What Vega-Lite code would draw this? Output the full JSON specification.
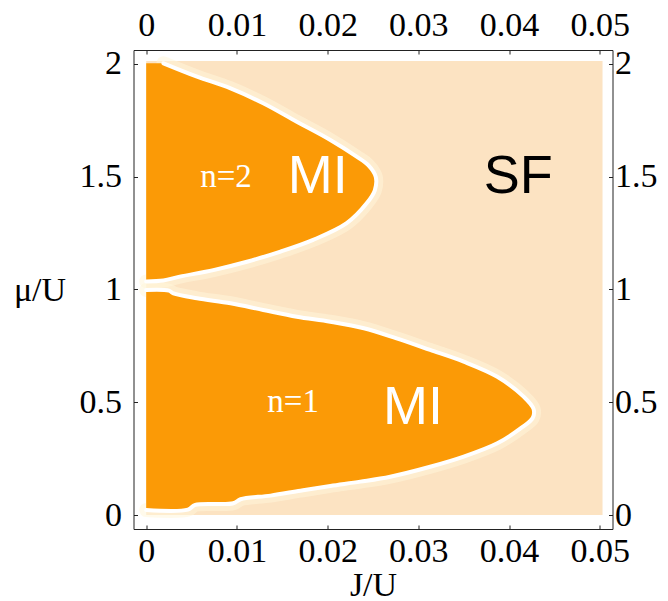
{
  "$schema": "https://vega.github.io/schema/vega-lite/v6.json",
  "autosize": "none",
  "width": 479,
  "height": 479,
  "padding": {"left": 133.5, "top": 50, "right": 55.5, "bottom": 72},
  "background": "white",
  "config": {
    "view": {"stroke": null},
    "axis": {
      "grid": false,
      "domainColor": "#222222",
      "domainWidth": 1,
      "tickColor": "#222222",
      "tickWidth": 1,
      "tickSize": -4,
      "labelFont": "Liberation Serif",
      "labelFontSize": 34,
      "labelColor": "black",
      "titleFont": "Liberation Serif",
      "titleFontSize": 34,
      "titleFontWeight": "normal",
      "titleColor": "black",
      "labelFlush": false,
      "labelOverlap": false
    }
  },
  "datasets": {
    "bg": [{"J0": 0, "J1": 0.0503, "mu0": 0, "mu1": 2.013}],
    "lobes": [
      {"lobe": "n1", "J": 0.0000, "mu": 0.022},
      {"lobe": "n1", "J": 0.0046, "mu": 0.024},
      {"lobe": "n1", "J": 0.0054, "mu": 0.045},
      {"lobe": "n1", "J": 0.0096, "mu": 0.052},
      {"lobe": "n1", "J": 0.0104, "mu": 0.070},
      {"lobe": "n1", "J": 0.0137, "mu": 0.086},
      {"lobe": "n1", "J": 0.0170, "mu": 0.108},
      {"lobe": "n1", "J": 0.0203, "mu": 0.129},
      {"lobe": "n1", "J": 0.0236, "mu": 0.148},
      {"lobe": "n1", "J": 0.0269, "mu": 0.170},
      {"lobe": "n1", "J": 0.0313, "mu": 0.214},
      {"lobe": "n1", "J": 0.0350, "mu": 0.259},
      {"lobe": "n1", "J": 0.0387, "mu": 0.318},
      {"lobe": "n1", "J": 0.0413, "mu": 0.385},
      {"lobe": "n1", "J": 0.0426, "mu": 0.430},
      {"lobe": "n1", "J": 0.0427, "mu": 0.470},
      {"lobe": "n1", "J": 0.0416, "mu": 0.525},
      {"lobe": "n1", "J": 0.0387, "mu": 0.613},
      {"lobe": "n1", "J": 0.0350, "mu": 0.680},
      {"lobe": "n1", "J": 0.0313, "mu": 0.732},
      {"lobe": "n1", "J": 0.0276, "mu": 0.783},
      {"lobe": "n1", "J": 0.0240, "mu": 0.828},
      {"lobe": "n1", "J": 0.0203, "mu": 0.857},
      {"lobe": "n1", "J": 0.0166, "mu": 0.879},
      {"lobe": "n1", "J": 0.0129, "mu": 0.909},
      {"lobe": "n1", "J": 0.0093, "mu": 0.939},
      {"lobe": "n1", "J": 0.0056, "mu": 0.961},
      {"lobe": "n1", "J": 0.0030, "mu": 0.983},
      {"lobe": "n1", "J": 0.0025, "mu": 0.995},
      {"lobe": "n1", "J": 0.0000, "mu": 0.998},
      {"lobe": "n2", "J": 0.0000, "mu": 1.036},
      {"lobe": "n2", "J": 0.0019, "mu": 1.040},
      {"lobe": "n2", "J": 0.0037, "mu": 1.057},
      {"lobe": "n2", "J": 0.0074, "mu": 1.086},
      {"lobe": "n2", "J": 0.0111, "mu": 1.123},
      {"lobe": "n2", "J": 0.0148, "mu": 1.168},
      {"lobe": "n2", "J": 0.0184, "mu": 1.220},
      {"lobe": "n2", "J": 0.0221, "mu": 1.294},
      {"lobe": "n2", "J": 0.0243, "mu": 1.382},
      {"lobe": "n2", "J": 0.0252, "mu": 1.440},
      {"lobe": "n2", "J": 0.0253, "mu": 1.500},
      {"lobe": "n2", "J": 0.0245, "mu": 1.550},
      {"lobe": "n2", "J": 0.0232, "mu": 1.589},
      {"lobe": "n2", "J": 0.0203, "mu": 1.663},
      {"lobe": "n2", "J": 0.0166, "mu": 1.744},
      {"lobe": "n2", "J": 0.0129, "mu": 1.826},
      {"lobe": "n2", "J": 0.0093, "mu": 1.892},
      {"lobe": "n2", "J": 0.0056, "mu": 1.944},
      {"lobe": "n2", "J": 0.0019, "mu": 2.003}
    ],
    "labels": [
      {"kind": "MI", "J": 0.0189, "mu": 1.50, "text": "MI"},
      {"kind": "MI", "J": 0.0294, "mu": 0.473, "text": "MI"},
      {"kind": "SF", "J": 0.0410, "mu": 1.50, "text": "SF"},
      {"kind": "n", "J": 0.0088, "mu": 1.50, "text": "n=2"},
      {"kind": "n", "J": 0.0162, "mu": 0.50, "text": "n=1"}
    ]
  },
  "resolve": {"axis": {"x": "independent", "y": "independent"}},
  "layer": [
    {
      "data": {"name": "bg"},
      "mark": {"type": "rect", "color": "#FCE3C2"},
      "encoding": {
        "x": {"field": "J0", "type": "quantitative",
              "scale": {"domain": [-0.0014, 0.0514], "nice": false, "zero": false},
              "axis": {"orient": "bottom", "values": [0, 0.01, 0.02, 0.03, 0.04, 0.05], "format": "~g", "labelPadding": 9, "title": "J/U", "titlePadding": 0}},
        "x2": {"field": "J1"},
        "y": {"field": "mu0", "type": "quantitative",
              "scale": {"domain": [-0.062, 2.062], "nice": false, "zero": false},
              "axis": {"orient": "left", "values": [0, 0.5, 1, 1.5, 2], "format": "~g", "labelPadding": 16, "title": "μ/U", "titleAngle": 0, "titleAlign": "center", "titleBaseline": "middle", "titleX": -94, "titleY": 240}},
        "y2": {"field": "mu1"}
      }
    },
    {
      "data": {"name": "lobes"},
      "mark": {"type": "line", "color": "#FFF6DA", "strokeWidth": 14, "opacity": 0.55, "strokeJoin": "round", "strokeCap": "round", "interpolate": "catmull-rom"},
      "encoding": {
        "x": {"field": "J", "type": "quantitative", "axis": {"orient": "top", "values": [0, 0.01, 0.02, 0.03, 0.04, 0.05], "format": "~g", "labelPadding": 12, "title": null}},
        "y": {"field": "mu", "type": "quantitative", "axis": {"orient": "right", "values": [0, 0.5, 1, 1.5, 2], "format": "~g", "labelPadding": 6, "title": null}},
        "detail": {"field": "lobe"},
        "order": {"field": "mu"}
      }
    },
    {
      "data": {"name": "lobes"},
      "mark": {"type": "area", "orient": "horizontal", "color": "#FB9A06", "opacity": 1, "interpolate": "catmull-rom"},
      "encoding": {
        "x": {"field": "J", "type": "quantitative", "stack": null, "axis": null},
        "x2": {"datum": 0},
        "y": {"field": "mu", "type": "quantitative", "axis": null},
        "detail": {"field": "lobe"}
      }
    },
    {
      "data": {"name": "lobes"},
      "mark": {"type": "line", "color": "white", "strokeWidth": 4, "strokeJoin": "round", "strokeCap": "round", "interpolate": "catmull-rom"},
      "encoding": {
        "x": {"field": "J", "type": "quantitative", "axis": null},
        "y": {"field": "mu", "type": "quantitative", "axis": null},
        "detail": {"field": "lobe"},
        "order": {"field": "mu"}
      }
    },
    {
      "data": {"name": "labels"},
      "transform": [{"filter": "datum.kind === 'MI'"}],
      "mark": {"type": "text", "font": "Liberation Sans", "fontSize": 54, "color": "white", "align": "center", "baseline": "middle"},
      "encoding": {
        "x": {"field": "J", "type": "quantitative", "axis": null},
        "y": {"field": "mu", "type": "quantitative", "axis": null},
        "text": {"field": "text"}
      }
    },
    {
      "data": {"name": "labels"},
      "transform": [{"filter": "datum.kind === 'SF'"}],
      "mark": {"type": "text", "font": "Liberation Sans", "fontSize": 54, "color": "black", "align": "center", "baseline": "middle"},
      "encoding": {
        "x": {"field": "J", "type": "quantitative", "axis": null},
        "y": {"field": "mu", "type": "quantitative", "axis": null},
        "text": {"field": "text"}
      }
    },
    {
      "data": {"name": "labels"},
      "transform": [{"filter": "datum.kind === 'n'"}],
      "mark": {"type": "text", "font": "Liberation Serif", "fontSize": 33, "color": "white", "align": "center", "baseline": "middle"},
      "encoding": {
        "x": {"field": "J", "type": "quantitative", "axis": null},
        "y": {"field": "mu", "type": "quantitative", "axis": null},
        "text": {"field": "text"}
      }
    }
  ]
}
